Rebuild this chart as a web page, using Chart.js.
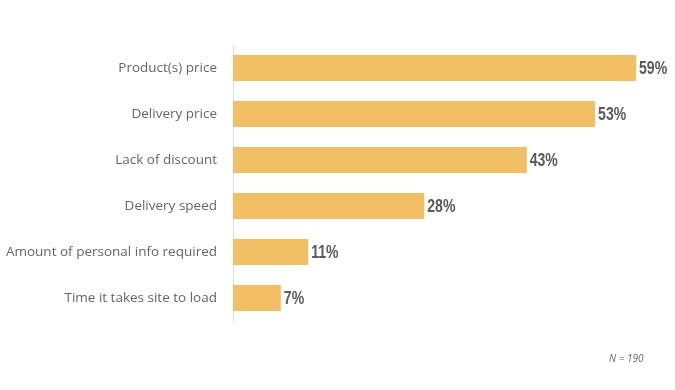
<!DOCTYPE html>
<html>
<head>
<meta charset="utf-8">
<script src="https://cdn.jsdelivr.net/npm/chart.js@4"></script>
<style>
  html, body { margin: 0; padding: 0; background: #fff; }
  #wrap { position: relative; width: 675px; height: 390px; }
  #note { position: absolute; left: 609px; top: 351px; font: italic 10px "Open Sans", sans-serif; color: #666; white-space: nowrap; }
</style>
</head>
<body>
<div id="wrap">
  <canvas id="c" width="675" height="390"></canvas>
  <div id="note">N = 190</div>
</div>
<script>
const categories = [
  "Product(s) price",
  "Delivery price",
  "Lack of discount",
  "Delivery speed",
  "Amount of personal info required",
  "Time it takes site to load"
];
const percentValues = [59, 53, 43, 28, 11, 7];
const valueLabels = ["59%", "53%", "43%", "28%", "11%", "7%"];

const valueLabelPlugin = {
  id: 'valueLabels',
  afterDatasetsDraw(chart) {
    const ctx = chart.ctx;
    const meta = chart.getDatasetMeta(0);
    const sx = 0.78;
    ctx.save();
    ctx.font = 'bold 18px "Liberation Sans", Arial, sans-serif';
    ctx.fillStyle = '#5a5a5a';
    ctx.textAlign = 'left';
    ctx.textBaseline = 'middle';
    meta.data.forEach((bar, i) => {
      ctx.save();
      ctx.translate(bar.x + 3, bar.y + 1);
      ctx.scale(sx, 1);
      ctx.fillText(valueLabels[i], 0, 0);
      ctx.restore();
    });
    ctx.restore();
  }
};

new Chart(document.getElementById('c'), {
  type: 'bar',
  data: {
    labels: categories,
    datasets: [{
      data: percentValues,
      backgroundColor: '#F2BF64',
      borderWidth: 0,
      barPercentage: 0.565,
      categoryPercentage: 1.0
    }]
  },
  options: {
    indexAxis: 'y',
    responsive: false,
    animation: false,
    layout: { padding: { top: 45, bottom: 69, left: 0, right: 0 } },
    plugins: {
      legend: { display: false },
      tooltip: { enabled: false }
    },
    scales: {
      x: {
        display: false,
        min: 0,
        max: 64.7
      },
      y: {
        afterFit: (s) => { s.width = 233; },
        grid: { display: false, drawTicks: false },
        border: { display: true, color: '#dddddd', width: 1 },
        ticks: {
          padding: 16,
          color: '#666666',
          font: { family: '"Open Sans", sans-serif', size: 13.5 }
        }
      }
    }
  },
  plugins: [valueLabelPlugin]
});
</script>
</body>
</html>
